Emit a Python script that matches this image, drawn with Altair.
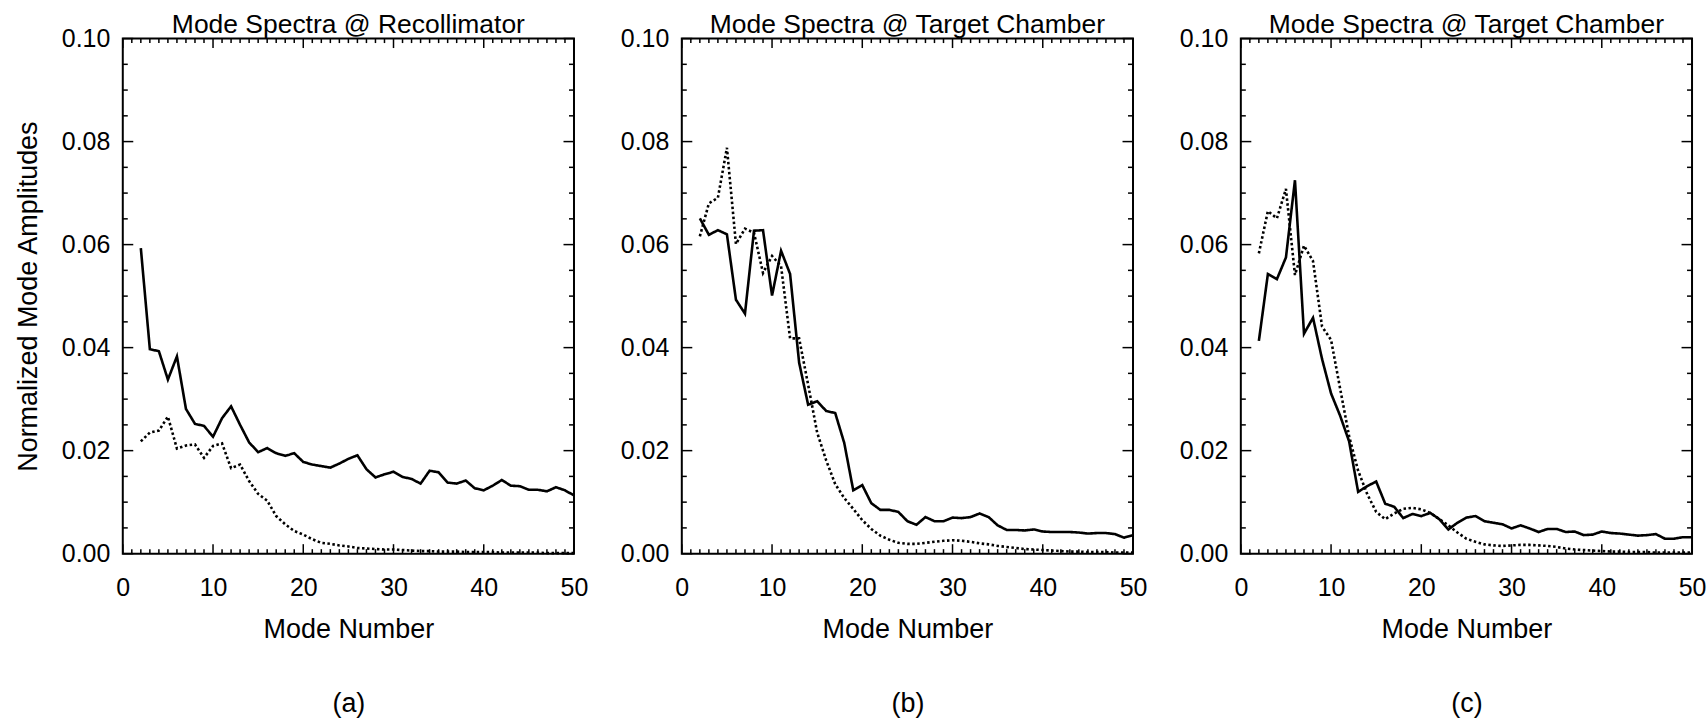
import altair as alt
import pandas as pd

# ---------------- data ----------------
MODES = list(range(2, 51))

A_SOLID = [0.0593, 0.0397, 0.0393, 0.0338, 0.0383, 0.0281, 0.0252, 0.0248, 0.0227, 0.0263,
           0.0286, 0.0250, 0.0216, 0.0197, 0.0205, 0.0195, 0.0190, 0.0195, 0.0178, 0.0173,
           0.0170, 0.0167, 0.0175, 0.0184, 0.0191, 0.0164, 0.0148, 0.0154, 0.0159, 0.0149,
           0.0145, 0.0136, 0.0161, 0.0158, 0.0138, 0.0136, 0.0142, 0.0127, 0.0123, 0.0132,
           0.0143, 0.0132, 0.0131, 0.0124, 0.0124, 0.0121, 0.0129, 0.0123, 0.0113]
A_DOTTED = [0.0218, 0.0235, 0.0239, 0.0266, 0.0204, 0.0210, 0.0212, 0.0186, 0.0209, 0.0214,
            0.0166, 0.0173, 0.0141, 0.0116, 0.0103, 0.0073, 0.0057, 0.0044, 0.0037, 0.0028,
            0.0021, 0.0019, 0.0016, 0.0014, 0.0011, 0.0010, 0.0009, 0.0008, 0.0008, 0.0007,
            0.0006, 0.0005, 0.0005, 0.0004, 0.0004, 0.0004, 0.0003, 0.0003, 0.0003, 0.0003,
            0.0002, 0.0002, 0.0002, 0.0002, 0.0002, 0.0001, 0.0001, 0.0001, 0.0001]
B_SOLID = [0.0651, 0.0619, 0.0628, 0.0620, 0.0493, 0.0466, 0.0627, 0.0628, 0.0501, 0.0588,
           0.0543, 0.0371, 0.0289, 0.0296, 0.0277, 0.0273, 0.0215, 0.0123, 0.0133, 0.0098,
           0.0085, 0.0085, 0.0081, 0.0063, 0.0056, 0.0071, 0.0063, 0.0063, 0.0070, 0.0069,
           0.0071, 0.0078, 0.0071, 0.0055, 0.0046, 0.0046, 0.0045, 0.0047, 0.0043, 0.0042,
           0.0042, 0.0042, 0.0041, 0.0039, 0.0040, 0.0040, 0.0038, 0.0031, 0.0036]
B_DOTTED = [0.0616, 0.0680, 0.0691, 0.0788, 0.0601, 0.0631, 0.0623, 0.0545, 0.0578, 0.0558,
            0.0418, 0.0418, 0.0328, 0.0235, 0.0181, 0.0135, 0.0108, 0.0087, 0.0065, 0.0048,
            0.0035, 0.0027, 0.0021, 0.0019, 0.0019, 0.0021, 0.0023, 0.0025, 0.0026, 0.0025,
            0.0023, 0.0020, 0.0018, 0.0015, 0.0013, 0.0011, 0.0009, 0.0008, 0.0007, 0.0006,
            0.0005, 0.0004, 0.0004, 0.0003, 0.0003, 0.0003, 0.0002, 0.0002, 0.0002]
C_SOLID = [0.0413, 0.0543, 0.0533, 0.0575, 0.0725, 0.0427, 0.0458, 0.0378, 0.0311, 0.0268,
           0.0218, 0.0120, 0.0131, 0.0140, 0.0097, 0.0091, 0.0069, 0.0077, 0.0073, 0.0079,
           0.0067, 0.0047, 0.0060, 0.0070, 0.0073, 0.0063, 0.0060, 0.0057, 0.0049, 0.0055,
           0.0049, 0.0042, 0.0048, 0.0048, 0.0042, 0.0043, 0.0036, 0.0037, 0.0043, 0.0040,
           0.0039, 0.0037, 0.0035, 0.0036, 0.0038, 0.0029, 0.0029, 0.0032, 0.0032]
C_DOTTED = [0.0583, 0.0665, 0.0651, 0.0708, 0.0541, 0.0598, 0.0568, 0.0441, 0.0415, 0.0321,
            0.0228, 0.0161, 0.0116, 0.0081, 0.0067, 0.0078, 0.0087, 0.0089, 0.0086, 0.0079,
            0.0067, 0.0055, 0.0041, 0.0029, 0.0023, 0.0018, 0.0016, 0.0015, 0.0016, 0.0017,
            0.0017, 0.0016, 0.0015, 0.0013, 0.0010, 0.0008, 0.0007, 0.0006, 0.0005, 0.0004,
            0.0004, 0.0003, 0.0003, 0.0003, 0.0002, 0.0002, 0.0002, 0.0002, 0.0002]

TITLES = ["Mode Spectra @ Recollimator", "Mode Spectra @ Target Chamber",
          "Mode Spectra @ Target Chamber"]
PANEL_LABELS = ["(a)", "(b)", "(c)"]
X_TITLE = "Mode Number"
Y_TITLE = "Normalized Mode Amplitudes"

X_TICKS = [0, 10, 20, 30, 40, 50]
Y_TICKS = [0.0, 0.02, 0.04, 0.06, 0.08, 0.10]
X_MINOR = [m for m in range(0, 51) if m % 10]
Y_MINOR = [round(k * 0.005, 3) for k in range(1, 20) if k % 4]

# ---------------- layout / style ----------------
W, H = 452, 516
XMAJ, XMIN = 9.5, 4.5
YMAJ, YMIN = 10.5, 5
FONT = "Liberation Sans"

xs = alt.Scale(domain=[0, 50], nice=False, zero=False)
ys = alt.Scale(domain=[0, 0.1], nice=False, zero=False)


def panel(title, label, solid, dotted, with_ytitle):
    xaxis = alt.Axis(values=X_TICKS, format="d", title=[X_TITLE, label])
    yaxis = alt.Axis(values=Y_TICKS, format=".2f",
                     title=Y_TITLE if with_ytitle else None)

    def x_ticks(values, length):
        d = pd.DataFrame({"v": values})
        bottom = alt.Chart(d).mark_rule(color="black", strokeWidth=1.5).encode(
            x=alt.X("v:Q", scale=xs, axis=xaxis), y=alt.value(H), y2=alt.value(H - length))
        top = alt.Chart(d).mark_rule(color="black", strokeWidth=1.5).encode(
            x=alt.X("v:Q", scale=xs, axis=xaxis), y=alt.value(0), y2=alt.value(length))
        return [bottom, top]

    def y_ticks(values, length):
        d = pd.DataFrame({"v": values})
        left = alt.Chart(d).mark_rule(color="black", strokeWidth=1.5).encode(
            y=alt.Y("v:Q", scale=ys, axis=yaxis), x=alt.value(0), x2=alt.value(length))
        right = alt.Chart(d).mark_rule(color="black", strokeWidth=1.5).encode(
            y=alt.Y("v:Q", scale=ys, axis=yaxis), x=alt.value(W), x2=alt.value(W - length))
        return [left, right]

    n = len(MODES)
    df = pd.DataFrame({
        "mode": MODES + MODES,
        "amp": solid + dotted,
        "style": ["solid"] * n + ["dotted"] * n,
    })
    lines = alt.Chart(df).mark_line(color="black", strokeWidth=2.6, strokeCap="butt").encode(
        x=alt.X("mode:Q", scale=xs, axis=xaxis),
        y=alt.Y("amp:Q", scale=ys, axis=yaxis),
        strokeDash=alt.StrokeDash("style:N",
                                  scale=alt.Scale(domain=["solid", "dotted"],
                                                  range=[[1, 0], [2.5, 2.5]]),
                                  legend=None),
    )
    layers = [lines] + x_ticks(X_TICKS, XMAJ) + x_ticks(X_MINOR, XMIN) \
        + y_ticks(Y_TICKS, YMAJ) + y_ticks(Y_MINOR, YMIN)
    return alt.layer(*layers).properties(
        width=W, height=H,
        title=alt.TitleParams(title, fontSize=26.5, fontWeight="normal", font=FONT,
                              color="black", offset=-12, anchor="middle"),
    )


charts = [
    panel(TITLES[0], PANEL_LABELS[0], A_SOLID, A_DOTTED, True),
    panel(TITLES[1], PANEL_LABELS[1], B_SOLID, B_DOTTED, False),
    panel(TITLES[2], PANEL_LABELS[2], C_SOLID, C_DOTTED, False),
]

chart = alt.HConcatChart(hconcat=charts, spacing=108, bounds="flush").properties(
    padding={"left": 13, "top": 10, "right": 0, "bottom": 0},
    background="white",
).configure_view(
    stroke="black", strokeWidth=2,
).configure_axis(
    domain=False, ticks=False, tickSize=0, grid=False,
    labelFont=FONT, labelFontSize=25, labelColor="black", labelFlush=False,
    labelOverlap=False,
    titleFont=FONT, titleFontSize=27, titleFontWeight="normal", titleColor="black",
).configure_axisX(
    labelPadding=22, titlePadding=16, titleLineHeight=74,
).configure_axisY(
    labelPadding=13, titlePadding=19,
)

chart.save("out.html", embed_options={"renderer": "svg", "actions": False})
